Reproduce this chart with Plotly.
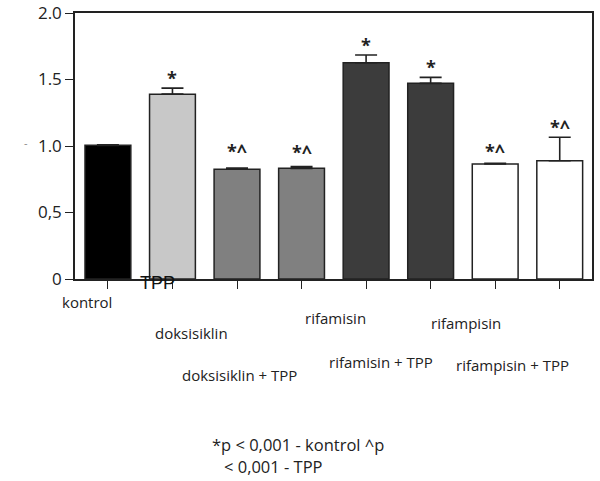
import plotly.graph_objects as go

categories = ["kontrol", "TPP", "doksisiklin", "doksisiklin + TPP",
              "rifamisin", "rifamisin + TPP", "rifampisin", "rifampisin + TPP"]
values = [1.005, 1.39, 0.825, 0.832, 1.626, 1.471, 0.865, 0.889]
errors = [0.004, 0.045, 0.010, 0.013, 0.058, 0.045, 0.005, 0.177]
signif = ["", "*", "*^", "*^", "*", "*", "*^", "*^"]
bar_colors = ["#000000", "#c8c8c8", "#808080", "#808080",
              "#3c3c3c", "#3c3c3c", "#ffffff", "#ffffff"]
ytick_vals = [0, 0.5, 1.0, 1.5, 2.0]
ytick_text = ["0", "0,5", "1.0", "1.5", "2.0"]
footnote = ["*p < 0,001 - kontrol ^p", "< 0,001 - TPP"]

# styling: extra vertical lift (px) of significance marks, as in the original
mark_lift = [0, 0, 7, 5, 0, 0, 2, 0]

# plot area in pixels
L, R, T, B = 75, 8, 13, 202
W, H = 600, 481
pw, ph = W - L - R, H - T - B

def px(x):
    return (x - L) / pw

def py(y):
    return (H - B - y) / ph

x_idx = list(range(len(categories)))

fig = go.Figure()
fig.add_trace(go.Bar(
    x=x_idx, y=values, width=0.71,
    marker=dict(color=bar_colors, line=dict(color="#222222", width=1.5)),
    error_y=dict(type="data", symmetric=False, array=errors,
                 arrayminus=[0] * len(errors), width=11, thickness=1.6,
                 color="#222222"),
    showlegend=False, hoverinfo="skip",
))

# significance markers
for i, (v, e, s, lift) in enumerate(zip(values, errors, signif, mark_lift)):
    if s:
        fig.add_annotation(x=i, y=v + e, xref="x", yref="y", text="<b>" + s + "</b>",
                           showarrow=False, yanchor="bottom", yshift=-4 + lift,
                           font=dict(family="Open Sans", size=18, color="#222222"))

# category labels (staggered as in the original)
label_pos = [(87, 302), (157, 283), (191, 333), (239, 375),
             (335, 318), (381, 362), (466, 323), (512, 365)]
for i, (cat, (cx, cy)) in enumerate(zip(categories, label_pos)):
    if cat == "TPP":
        font = dict(family="Liberation Sans", size=18, color="#111111")
    else:
        font = dict(family="Open Sans", size=15, color="#222222")
    fig.add_annotation(x=px(cx), y=py(cy), xref="paper", yref="paper", text=cat,
                       showarrow=False, xanchor="center", yanchor="middle", font=font)

# footnote
fig.add_annotation(x=px(210), y=py(444), xref="paper", yref="paper", text=footnote[0],
                   showarrow=False, xanchor="left", yanchor="middle",
                   font=dict(family="Open Sans", size=16.5, color="#222222"))
fig.add_annotation(x=px(222), y=py(467), xref="paper", yref="paper", text=footnote[1],
                   showarrow=False, xanchor="left", yanchor="middle",
                   font=dict(family="Open Sans", size=16.5, color="#222222"))
# faint mark left of axis
fig.add_annotation(x=px(22), y=py(142), xref="paper", yref="paper", text="-",
                   showarrow=False, font=dict(family="Open Sans", size=11, color="#888888"))

fig.update_layout(
    width=W, height=H,
    margin=dict(l=L, r=R, t=T, b=B),
    paper_bgcolor="white", plot_bgcolor="white",
    bargap=0.29,
)
fig.update_xaxes(range=[-0.51, 7.5], tickvals=x_idx, ticktext=[""] * len(x_idx),
                 ticks="outside", ticklen=8, tickwidth=1.3, tickcolor="#222222",
                 showline=True, linecolor="#222222", linewidth=1.5, mirror=True,
                 showgrid=False, zeroline=False, automargin=False)
fig.update_yaxes(range=[0, 2.0], tickvals=ytick_vals, ticktext=ytick_text,
                 ticks="outside", ticklen=8, tickwidth=1.3, tickcolor="#222222",
                 showline=True, linecolor="#222222", linewidth=1.5, mirror=True,
                 showgrid=False, zeroline=False, automargin=False,
                 tickfont=dict(family="Open Sans", size=17, color="#222222"))

fig.write_html("out.html", config={"displayModeBar": False},
               post_script="document.body.style.margin='0';document.body.style.overflow='hidden';")
